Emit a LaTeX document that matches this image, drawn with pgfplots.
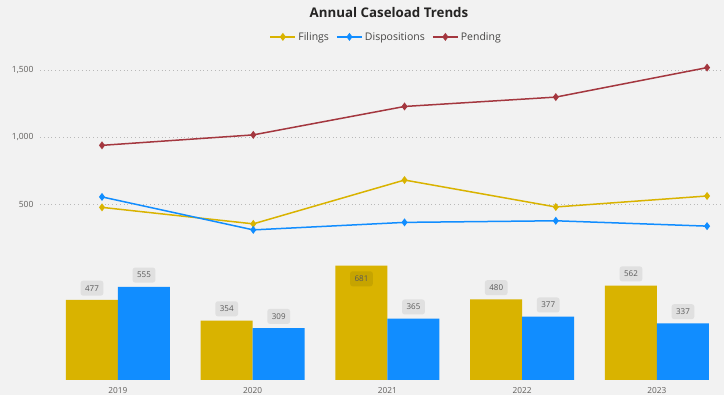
\documentclass[border=0pt]{standalone}
\usepackage{fontspec}
\setmainfont{Open Sans}
\usepackage{pgfplots}
\pgfplotsset{compat=1.18}
\usepackage{pgfplotstable}

\definecolor{bg}{HTML}{F2F2F2}
\definecolor{fil}{HTML}{D9B300}
\definecolor{dis}{HTML}{118DFF}
\definecolor{pen}{HTML}{A4373F}
\definecolor{lblgray}{HTML}{E0E0E0}
\definecolor{lbldark}{HTML}{C6A400}
\definecolor{txt}{HTML}{252423}
\definecolor{axtxt}{HTML}{605E5C}

\pgfplotstableread{
x y
0 477
1 354
2 681
3 480
4 562
}\filtab
\pgfplotstableread{
x y
0 555
1 309
2 365
3 377
4 337
}\distab
\pgfplotstableread{
year filings dispositions pending
2019 477 555 940
2020 354 309 1018
2021 681 365 1230
2022 480 377 1300
2023 562 337 1520
}\linetab

\pgfplotsset{/pgf/number format/assume math mode=true}
\pgfkeys{/tikz/lblsel/.code={%
  \pgfmathfloattofixed{\pgfplotspointmeta}%
  \ifdim\pgfmathresult pt>600pt
    \pgfkeysalso{anchor=north, yshift=-9.5pt, fill=lbldark}%
  \fi}}

\begin{document}
\begin{tikzpicture}[x=1pt,y=1pt]
\fill[bg] (0,0) rectangle (724,395);
\node[font=\fontsize{13.3}{16}\selectfont\bfseries, text=txt] at (389,382) {Annual Caseload Trends};

% bars
\begin{axis}[
  at={(50.6pt,15pt)}, anchor=south west,
  scale only axis, width=673.75pt, height=117.6pt,
  xmin=-0.5, xmax=4.5, ymin=0, ymax=700,
  axis line style={draw=none},
  ytick=\empty, xtick={0,1,2,3,4},
  xticklabels={2019,2020,2021,2022,2023},
  major tick length=0pt,
  xticklabel style={font=\fontsize{8.3}{10}\selectfont, text=axtxt, yshift=-3.5pt},
  ybar=0pt, bar width=52pt,
  clip=false,
  nodes near coords,
  every node near coord/.append style={font=\fontsize{8}{9}\selectfont, text=black!65,
     fill=lblgray, rounded corners=2.5pt, inner xsep=4.5pt, inner ysep=0pt,
     minimum height=15pt, anchor=south, yshift=4pt, lblsel},
]
\addplot[fill=fil, draw=none] table[x=x, y=y]{\filtab};
\addplot[fill=dis, draw=none] table[x=x, y=y]{\distab};
\end{axis}

% lines
\begin{axis}[
  at={(40pt,123.7pt)}, anchor=south west,
  scale only axis, width=684pt, height=214.4pt,
  xmin=2018.59, xmax=2023.112, ymin=0, ymax=1600,
  axis line style={draw=none},
  xtick=\empty, ytick={500,1000,1500},
  ymajorgrids,
  major grid style={color=gray!55, line width=0.6pt, dash pattern=on 0.8pt off 3pt},
  major tick length=0pt,
  yticklabel style={font=\fontsize{8.5}{10}\selectfont, text=axtxt, xshift=-3pt},
  /pgf/number format/1000 sep={,},
  clip=false,
  legend columns=3,
  legend style={at={(0.506,1.091)}, anchor=center, draw=bg, fill=bg,
    font=\fontsize{10.5}{12}\selectfont, text=txt!85,
    inner sep=0pt,
    /tikz/every even column/.append style={column sep=5pt}},
  legend image code/.code={%
    \draw[line width=2pt, solid] (0pt,0.5pt) -- (25pt,0.5pt);
    \path plot[mark=diamond*, mark size=2.8pt] coordinates {(12.5pt,0.5pt)};},
]
\addplot[color=fil, line width=1.5pt, mark=diamond*, mark size=2.8pt] table[x=year, y=filings]{\linetab};
\addlegendentry{Filings}
\addplot[color=dis, line width=1.5pt, mark=diamond*, mark size=2.8pt] table[x=year, y=dispositions]{\linetab};
\addlegendentry{Dispositions}
\addplot[color=pen, line width=1.5pt, mark=diamond*, mark size=2.8pt] table[x=year, y=pending]{\linetab};
\addlegendentry{Pending}
\end{axis}

\pgfresetboundingbox
\path[use as bounding box] (0,0) rectangle (724,395);
\end{tikzpicture}
\end{document}
